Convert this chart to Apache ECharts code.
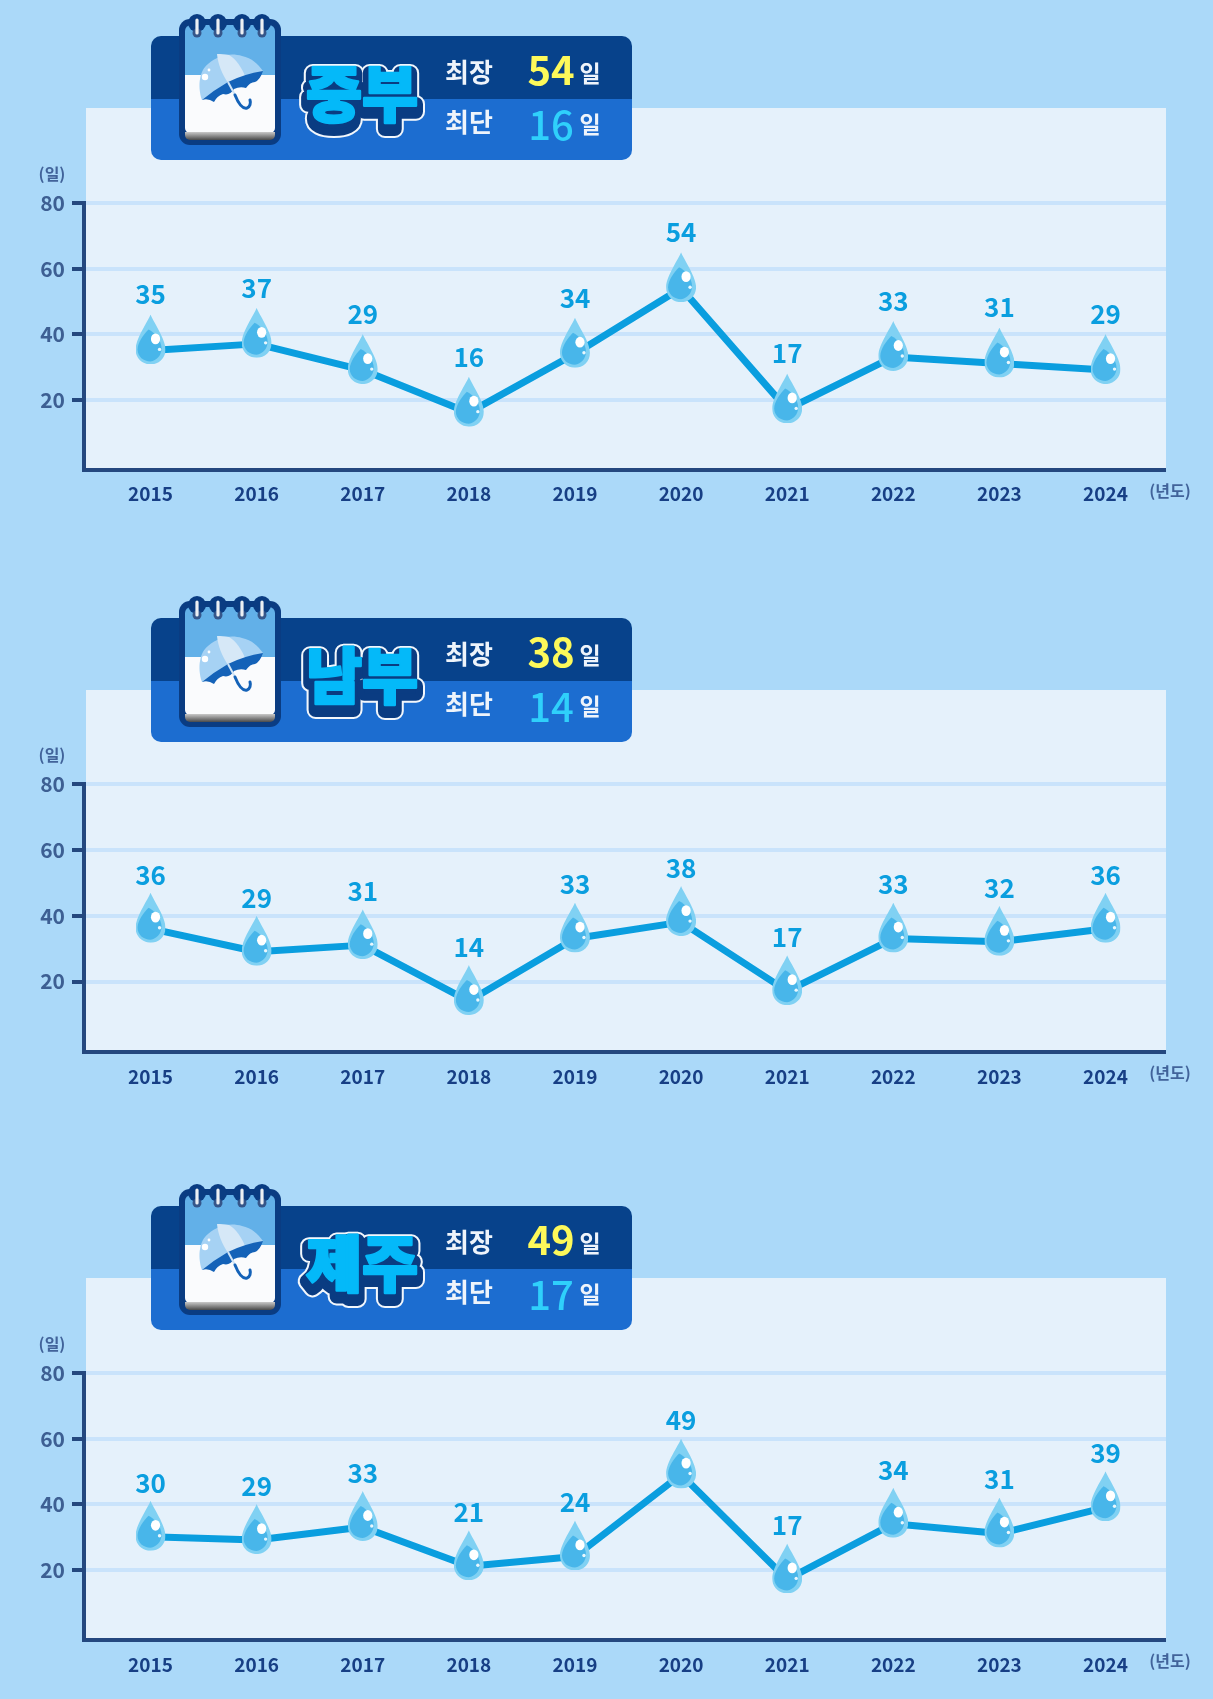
<!DOCTYPE html>
<html>
<head>
<meta charset="utf-8">
<style>
html, body { margin: 0; padding: 0; background: #abd9f9; }
#chart { width: 1213px; height: 1699px; }
</style>
<script src="https://cdn.jsdelivr.net/npm/echarts@6/dist/echarts.min.js"></script>
</head>
<body>
<div id="chart"></div>
<script>
var years = [2015, 2016, 2017, 2018, 2019, 2020, 2021, 2022, 2023, 2024];
var yTicks = [20, 40, 60, 80];
var regions = ['중부', '남부', '제주'];
var central = [35, 37, 29, 16, 34, 54, 17, 33, 31, 29];
var southern = [36, 29, 31, 14, 33, 38, 17, 33, 32, 36];
var jeju = [30, 29, 33, 21, 24, 49, 17, 34, 31, 39];
var longest = [54, 38, 49];
var shortest = [16, 14, 17];

var FONT = '"Noto Sans CJK KR", "Noto Sans", sans-serif';
var seriesValues = [central, southern, jeju];
var headerTop = [36, 618, 1206];
var gridTop = [203, 784, 1373];
var axisY = [470, 1052, 1640];
var labelGap = [7, 5, 5];
var yearMargin = [14, 15, 15];

/* zrender drops lineJoin on text, the region names need round outlines */
var strokeText = CanvasRenderingContext2D.prototype.strokeText;
CanvasRenderingContext2D.prototype.strokeText = function (t, x, y, w) {
    this.lineJoin = 'round';
    return w === undefined ? strokeText.call(this, t, x, y) : strokeText.call(this, t, x, y, w);
};

var myChart = echarts.init(document.getElementById('chart'));

function svgUri(svg) {
    return 'data:image/svg+xml;charset=utf-8,' + encodeURIComponent(svg);
}

/* water drop marker */
var dropSvg = '<svg xmlns="http://www.w3.org/2000/svg" width="30" height="50" viewBox="0 0 30 50">' +
    '<path fill="#80d1f3" d="M15 0C17 6 30 24 30 35C30 44 23 50 15 50C7 50 0 44 0 35C0 24 13 6 15 0Z"/>' +
    '<path fill="#48b6ea" d="M13 15C8 20 2 28 2 35C2 42 8 47 15 47C21 46 26 41 26 34C26 26 19 18 13 15Z"/>' +
    '<ellipse fill="#fff" cx="20" cy="24.5" rx="4.6" ry="5.4"/><circle fill="#e9f7fd" cx="24" cy="35" r="1.7"/></svg>';
var dropSymbol = 'image://' + svgUri(dropSvg);

/* umbrella on the notepad */
var umbrellaSvg = '<svg xmlns="http://www.w3.org/2000/svg" width="120" height="140" viewBox="0 0 120 140">' +
    '<path fill="#a6d2f4" d="M32 90C27 75 30 60 38 54C50 44 62 43 72 46C82 48 88 54 93 61L60 80Z"/>' +
    '<path fill="#d6e8f7" d="M47 44C51 44 55 44 59 45C66 49 72 58 75 66L58 73C52 64 48 54 47 44Z"/>' +
    '<path fill="#1462b8" d="M32 90Q44 80 58 72Q74 64 93 61Q90 70 85 72Q80 72 76 78Q70 76 64 79Q60 86 53 84Q47 86 44 92Q38 88 32 90Z"/>' +
    '<path fill="none" stroke="#cfe3f5" stroke-width="2" d="M58 72L65 85"/>' +
    '<path fill="none" stroke="#1462b8" stroke-width="3" stroke-linecap="round" d="M65 85C69 95 73 99 77 98C80 97 81 93 80 90"/>' +
    '<circle fill="#fff" cx="35" cy="67" r="3.2"/><circle fill="#fff" cx="39" cy="60" r="1.4"/></svg>';
var umbrellaImage = svgUri(umbrellaSvg);

function txt(x, y, text, size, color, weight) {
    return {
        type: 'text', x: x, y: y, z: 20,
        style: {
            text: text, fill: color, align: 'center', verticalAlign: 'middle',
            font: (weight || 700) + ' ' + size + 'px ' + FONT
        }
    };
}

/* header banner + notepad icon, drawn on top of the chart */
function headerParts(i) {
    var h = headerTop[i];
    var parts = [
        { type: 'rect', z: -1, shape: { x: 86, y: h + 72, width: 1080, height: axisY[i] - h - 72 }, style: { fill: '#e5f1fb' } },
        { type: 'rect', z: 10, shape: { x: 151, y: h, width: 481, height: 63, r: [10, 10, 0, 0] }, style: { fill: '#07428b' } },
        { type: 'rect', z: 10, shape: { x: 151, y: h + 63, width: 481, height: 61, r: [0, 0, 10, 10] }, style: { fill: '#1c6dd0' } }
    ];
    var p = {
        type: 'group', x: 170, y: h - 26, z: 12,
        children: [
            { type: 'rect', z: 12, shape: { x: 9, y: 9, width: 102, height: 126, r: 11 }, style: { fill: '#0a3c82' } },
            { type: 'rect', z: 13, shape: { x: 15, y: 15, width: 90, height: 52, r: [6, 6, 0, 0] }, style: { fill: '#62b0e8' } },
            { type: 'rect', z: 13, shape: { x: 15, y: 65, width: 90, height: 58, r: [0, 0, 5, 5] }, style: { fill: '#fafbfd' } },
            {
                type: 'rect', z: 14, shape: { x: 15, y: 122, width: 90, height: 8, r: [0, 0, 5, 5] },
                style: { fill: new echarts.graphic.LinearGradient(0, 0, 0, 1, [{ offset: 0, color: '#c9c9c9' }, { offset: 1, color: '#4a4a4a' }]) }
            },
            { type: 'image', z: 15, style: { image: umbrellaImage, x: 0, y: 0, width: 120, height: 140 } }
        ]
    };
    [27, 48, 72, 92].forEach(function (x) {
        p.children.push({ type: 'circle', z: 14, shape: { cx: x, cy: 13, r: 9 }, style: { fill: '#0a3c82' } });
        p.children.push({ type: 'circle', z: 15, shape: { cx: x, cy: 23, r: 4.5 }, style: { fill: '#35568a' } });
        p.children.push({ type: 'line', z: 16, shape: { x1: x, y1: 10, x2: x, y2: 23 }, style: { stroke: '#eceff3', lineWidth: 3.2, lineCap: 'round' } });
    });
    parts.push(p);

    /* region name: white rim, navy rim, cyan face */
    var name = regions[i];
    var layers = [
        { dy: 2, stroke: '#f2f7fc', w: 18 },
        { dy: 2, stroke: '#0a3c82', w: 14 },
        { dy: -4, stroke: '#04b9f9', w: 2.5 }
    ];
    layers.forEach(function (l, k) {
        parts.push({
            type: 'text', x: 362, y: h + 62 + l.dy, z: 21 + k,
            style: {
                text: name, fill: k === 2 ? '#04b9f9' : l.stroke, stroke: l.stroke, lineWidth: l.w,
                align: 'center', verticalAlign: 'middle', font: '900 61px ' + FONT
            }
        });
    });

    parts.push(txt(469, h + 36, '최장', 26, '#eef4fb'));
    parts.push(txt(551, h + 34, String(longest[i]), 40, '#fdf95a'));
    parts.push(txt(590, h + 37, '일', 23, '#eef4fb'));
    parts.push(txt(469, h + 86, '최단', 26, '#eef4fb'));
    parts.push(txt(551, h + 89, String(shortest[i]), 40, '#2fd0fb', 500));
    parts.push(txt(590, h + 88, '일', 23, '#eef4fb'));
    return parts;
}

var grids = [], xAxes = [], yAxes = [], series = [], graphics = [];

regions.forEach(function (region, i) {
    grids.push({ left: 84, width: 1082, top: gridTop[i], height: axisY[i] - gridTop[i] });
    xAxes.push({
        gridIndex: i,
        type: 'value',
        min: 2014.373,
        max: 2024.57,
        name: '(년도)',
        nameLocation: 'end',
        nameGap: 4,
        nameMoveOverlap: false,
        nameTextStyle: { color: '#41639a', fontFamily: FONT, fontSize: 16, fontWeight: 700, align: 'center', verticalAlign: 'top', padding: [13, 0, 0, 0] },
        axisLine: { show: true, onZero: false, lineStyle: { color: '#24487f', width: 4, cap: 'butt' } },
        axisTick: { show: false },
        splitLine: { show: false },
        axisLabel: {
            customValues: years,
            margin: yearMargin[i],
            color: '#173f85',
            fontFamily: FONT,
            fontSize: 19,
            fontWeight: 700,
            formatter: function (v) { return String(v); }
        }
    });
    yAxes.push({
        gridIndex: i,
        type: 'value',
        min: -1.5,
        max: 80,
        name: '(일)',
        nameLocation: 'end',
        nameGap: 21,
        nameTextStyle: { color: '#41639a', fontFamily: FONT, fontSize: 16, fontWeight: 700, align: 'center', padding: [0, 64, 0, 0] },
        axisLine: { show: true, onZero: false, lineStyle: { color: '#24487f', width: 4, cap: 'square' } },
        axisTick: { show: true, customValues: yTicks, length: 12, lineStyle: { color: '#24487f', width: 4 } },
        splitLine: { show: false },
        axisLabel: {
            customValues: yTicks,
            margin: 19,
            color: '#3d5f93',
            fontFamily: FONT,
            fontSize: 21,
            fontWeight: 700
        }
    });
    series.push({
        name: region,
        type: 'line',
        xAxisIndex: i,
        yAxisIndex: i,
        data: years.map(function (y, k) { return [y, seriesValues[i][k]]; }),
        symbol: dropSymbol,
        symbolSize: [30, 50],
        symbolOffset: [0, -11],
        showSymbol: true,
        showAllSymbol: true,
        lineStyle: { color: '#0a9edf', width: 7, cap: 'butt' },
        itemStyle: { color: '#0a9edf' },
        label: {
            show: true,
            position: 'top',
            distance: labelGap[i],
            color: '#0a9edf',
            fontFamily: FONT,
            fontSize: 26,
            fontWeight: 700,
            formatter: function (p) { return String(p.value[1]); }
        },
        markLine: {
            silent: true,
            symbol: 'none',
            animation: false,
            label: { show: false },
            lineStyle: { color: '#c9e3fb', width: 4, type: 'solid' },
            data: yTicks.map(function (t) { return { yAxis: t }; }),
            z: 0
        },
        z: 5
    });
    graphics = graphics.concat(headerParts(i));
});

var option = {
    backgroundColor: '#abd9f9',
    animation: false,
    grid: grids,
    xAxis: xAxes,
    yAxis: yAxes,
    series: series,
    graphic: graphics
};

myChart.setOption(option);
</script>
</body>
</html>
